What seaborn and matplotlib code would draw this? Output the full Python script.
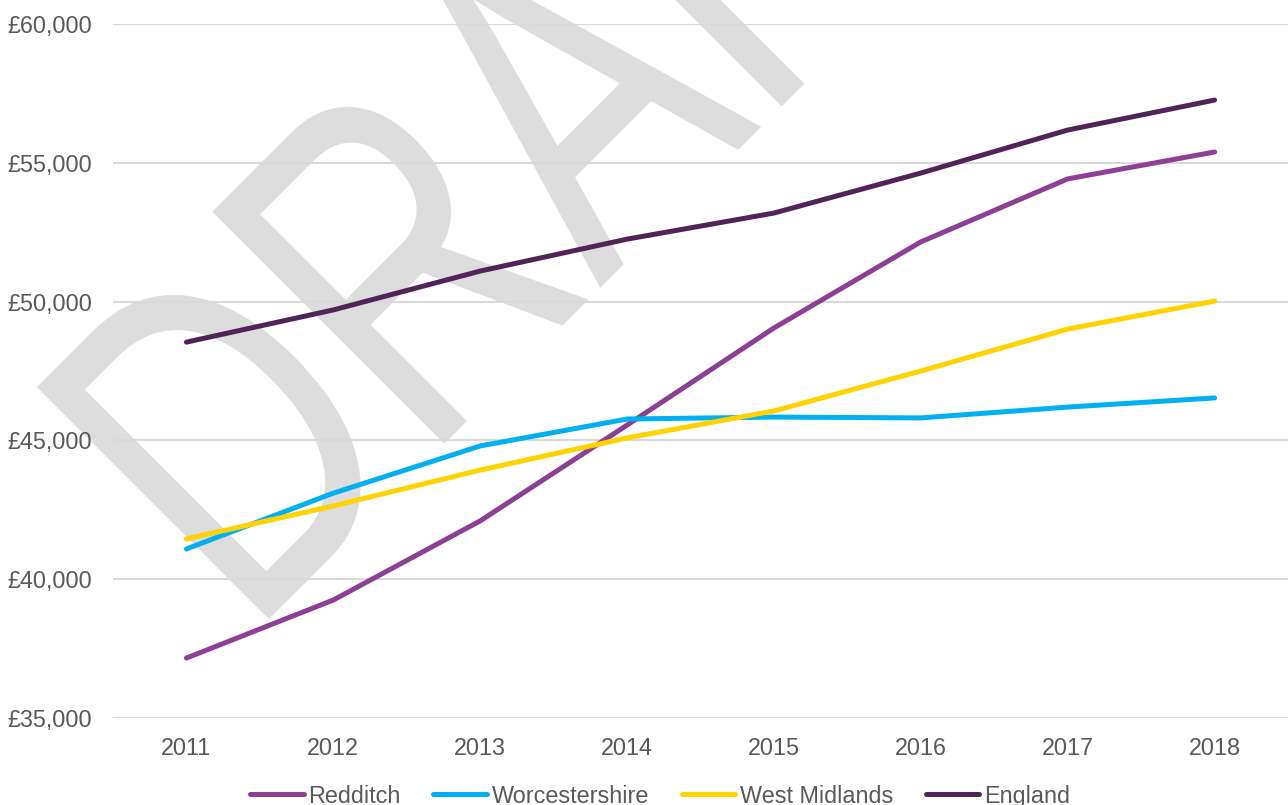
import pandas as pd
import matplotlib
matplotlib.use('Agg')
import matplotlib.pyplot as plt
import seaborn as sns
from matplotlib.textpath import TextPath
from matplotlib.patches import PathPatch
from matplotlib.font_manager import FontProperties
from matplotlib.transforms import Affine2D
from matplotlib.ticker import FuncFormatter

# Werte
jahre = [2011, 2012, 2013, 2014, 2015, 2016, 2017, 2018]
redditch = [37160, 39250, 42100, 45550, 49050, 52150, 54420, 55390]
worcestershire = [41090, 43100, 44800, 45770, 45840, 45810, 46200, 46530]
west_midlands = [41450, 42640, 43930, 45090, 46060, 47500, 49010, 50020]
england = [48540, 49700, 51100, 52250, 53190, 54630, 56180, 57260]

reihen = ['Redditch', 'Worcestershire', 'West Midlands', 'England']
farben = ['#8C3F94', '#00B0F0', '#FFD200', '#512359']

df = pd.DataFrame({'Jahr': jahre * 4,
                   'Wert': redditch + worcestershire + west_midlands + england,
                   'Gebiet': [r for r in reihen for _ in jahre]})

sns.set_style('white')
plt.rcParams['font.family'] = ['Liberation Sans', 'DejaVu Sans']
plt.rcParams['lines.solid_capstyle'] = 'round'

fig = plt.figure(figsize=(12.88, 8.05), dpi=100)
ax = fig.add_axes([113 / 1288, 1 - 718 / 805, 1 - 113 / 1288, (718 - 24) / 805])
ax.set_facecolor('none')

# Wasserzeichen "DRAFT"
tp = TextPath((0, 0), 'DRAFT', size=477, prop=FontProperties(family='Liberation Sans'))
tr = Affine2D().scale(0.72, 1).rotate_deg(45).translate(249, 166).scale(1 / 100) + fig.dpi_scale_trans
fig.add_artist(PathPatch(tp, transform=tr, facecolor='#DDDDDD', edgecolor='none', zorder=-1))

sns.lineplot(data=df, x='Jahr', y='Wert', hue='Gebiet', hue_order=reihen,
             palette=farben, linewidth=3.6, ax=ax, legend=False)

ax.set_xlim(2010.5, 2018.5)
ax.set_ylim(35000, 60000)
ax.set_yticks(range(35000, 60001, 5000))
ax.set_xticks(jahre)
ax.yaxis.set_major_formatter(FuncFormatter(lambda v, p: f'£{v:,.0f}'))
ax.grid(axis='y', color='#D9D9D9', linewidth=1.5)
ax.grid(axis='x', visible=False)
for s in ax.spines.values():
    s.set_visible(False)
ax.tick_params(axis='both', length=0, labelsize=16.8, colors='#595959')
ax.tick_params(axis='y', pad=15)
ax.tick_params(axis='x', pad=14)
ax.set_xlabel('')
ax.set_ylabel('')

handles = [plt.Line2D([], [], color=f, linewidth=3.6) for f in farben]
fig.legend(handles, reihen, loc='center', bbox_to_anchor=(660 / 1288, 9 / 805), ncol=4,
           frameon=False, fontsize=16.8, labelcolor='#595959', handlelength=2.3,
           handletextpad=0.2, columnspacing=1.4, borderpad=0)

fig.savefig('out.png', dpi=100)
